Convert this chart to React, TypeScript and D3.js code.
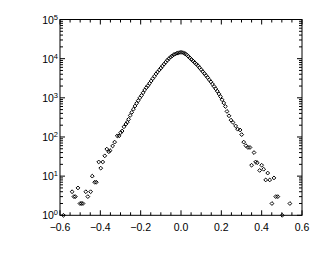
import React from "react";
import * as d3 from "d3";

const leftTailX = [-0.583, -0.54, -0.531, -0.524, -0.511, -0.501, -0.494, -0.486, -0.472, -0.462, -0.448, -0.44, -0.428, -0.42, -0.408, -0.398, -0.388, -0.378, -0.368, -0.358, -0.352, -0.339, -0.329, -0.316, -0.307, -0.299, -0.292, -0.283, -0.273, -0.266];
const leftTailN = [1, 4, 3, 3, 5, 2, 2, 2, 4, 3, 4, 10, 7, 7, 23, 16, 23, 33, 49, 42, 45, 59, 74, 107, 107, 129, 142, 182, 214, 240];

const coreX = [-0.26, -0.252, -0.244, -0.236, -0.228, -0.22, -0.212, -0.204, -0.196, -0.188, -0.18, -0.172, -0.164, -0.156, -0.148, -0.14, -0.132, -0.124, -0.116, -0.108, -0.1, -0.092, -0.084, -0.076, -0.068, -0.06, -0.052, -0.044, -0.036, -0.028, -0.02, -0.012, -0.004, 0.004, 0.012, 0.02, 0.028, 0.036, 0.044, 0.052, 0.06, 0.068, 0.076, 0.084, 0.092, 0.1, 0.108, 0.116, 0.124, 0.132, 0.14, 0.148, 0.156, 0.164, 0.172, 0.18, 0.188, 0.196, 0.204, 0.212, 0.22];
const coreN = [282, 355, 427, 513, 617, 724, 851, 1000, 1148, 1349, 1585, 1820, 2042, 2344, 2692, 3090, 3548, 4074, 4571, 5129, 5754, 6457, 7244, 8128, 9120, 10000, 10965, 11749, 12589, 13183, 13804, 14125, 14454, 14454, 14125, 13490, 12589, 11482, 10471, 9550, 8710, 7943, 7244, 6607, 5888, 5248, 4677, 4169, 3715, 3311, 2884, 2570, 2239, 1950, 1698, 1479, 1259, 1072, 891, 741, 603];

const rightTailX = [0.228, 0.238, 0.248, 0.258, 0.271, 0.281, 0.293, 0.301, 0.311, 0.322, 0.332, 0.342, 0.35, 0.362, 0.37, 0.378, 0.39, 0.4, 0.41, 0.42, 0.43, 0.44, 0.451, 0.461, 0.47, 0.48, 0.502, 0.54];
const rightTailN = [450, 347, 269, 234, 191, 158, 151, 115, 74, 60, 54, 54, 19, 40, 23, 22, 14, 19, 15, 8, 12, 8, 2, 9, 3, 3, 1, 2];

const xTicks = [-0.6, -0.4, -0.2, 0.0, 0.2, 0.4, 0.6];
const yExponents = [0, 1, 2, 3, 4, 5];

const W = 320, H = 256;
const L = 60, R = 302, T = 19.5, B = 215.3;

export default function App() {
  const x = d3.scaleLinear().domain([-0.6, 0.6]).range([L, R]);
  const y = d3.scaleLog().domain([1, 1e5]).range([B, T]);

  const points: [number, number][] = [];
  leftTailX.forEach((v, i) => points.push([v, leftTailN[i]]));
  coreX.forEach((v, i) => points.push([v, coreN[i]]));
  rightTailX.forEach((v, i) => points.push([v, rightTailN[i]]));

  const xMinor = d3.range(-0.6, 0.6001, 0.05).filter(v => Math.abs(Math.round(v * 5) - v * 5) > 1e-6);
  const yMinor: number[] = [];
  for (let e = 0; e < 5; e++) for (let m = 2; m <= 9; m++) yMinor.push(m * Math.pow(10, e));

  const font = "'Liberation Sans', Arial, Helvetica, sans-serif";
  const diamond = "M0,-1.9L1.9,0L0,1.9L-1.9,0Z";

  return (
    <svg width={W} height={H} style={{ position: "absolute", left: 0, top: 0, background: "#fff" }}>
      <rect x={0} y={0} width={W} height={H} fill="#fff" />
      <rect x={L} y={T} width={R - L} height={B - T} fill="none" stroke="#000" strokeWidth={1} />
      {xTicks.map(t => (
        <g key={"xt" + t}>
          <line x1={x(t)} x2={x(t)} y1={B} y2={B - 5} stroke="#000" />
          <line x1={x(t)} x2={x(t)} y1={T} y2={T + 5} stroke="#000" />
          <text x={x(t)} y={231} fontSize={10.5} fontFamily={font} textAnchor="middle">
            {(t < 0 ? "\u2212" : "") + Math.abs(t).toFixed(1)}
          </text>
        </g>
      ))}
      {xMinor.map(t => (
        <g key={"xm" + t}>
          <line x1={x(t)} x2={x(t)} y1={B} y2={B - 3} stroke="#000" />
          <line x1={x(t)} x2={x(t)} y1={T} y2={T + 3} stroke="#000" />
        </g>
      ))}
      {yExponents.map(e => (
        <g key={"yt" + e}>
          <line x1={L} x2={L + 5} y1={y(Math.pow(10, e))} y2={y(Math.pow(10, e))} stroke="#000" />
          <line x1={R} x2={R - 5} y1={y(Math.pow(10, e))} y2={y(Math.pow(10, e))} stroke="#000" />
          <text x={58} y={y(Math.pow(10, e)) + 4} fontSize={10.5} fontFamily={font} textAnchor="end">
            10<tspan dy={-4} fontSize={7.5}>{e}</tspan>
          </text>
        </g>
      ))}
      {yMinor.map(v => (
        <g key={"ym" + v}>
          <line x1={L} x2={L + 3} y1={y(v)} y2={y(v)} stroke="#000" />
          <line x1={R} x2={R - 3} y1={y(v)} y2={y(v)} stroke="#000" />
        </g>
      ))}
      {points.map(([px, n], i) => (
        <path key={"p" + i} d={diamond} transform={`translate(${x(px)},${y(n)})`} fill="none" stroke="#000" strokeWidth={1} />
      ))}
    </svg>
  );
}
